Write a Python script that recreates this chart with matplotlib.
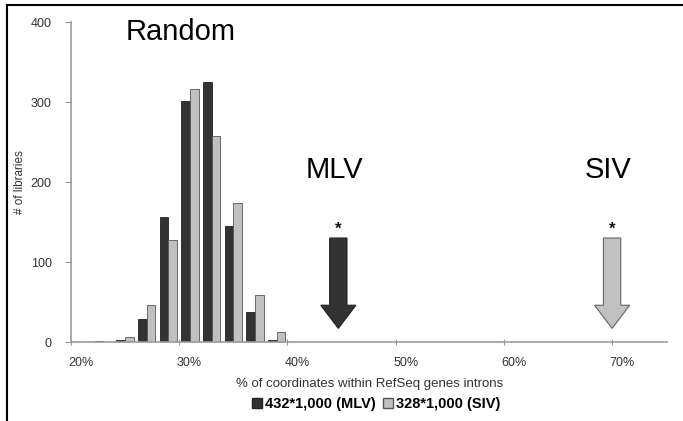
import numpy as np
import matplotlib as mpl
import matplotlib.pyplot as plt
from matplotlib.transforms import ScaledTranslation
from matplotlib.patches import Patch
from matplotlib.lines import Line2D

mpl.rcParams["font.family"] = ["Liberation Sans", "DejaVu Sans"]

# histogram of % of coordinates in introns (2% bins)
bin_centers = [23, 25, 27, 29, 31, 33, 35, 37, 39]
mlv_counts = [1, 2, 29, 156, 301, 325, 145, 38, 2]
siv_counts = [0, 6, 46, 128, 316, 258, 174, 59, 12]

# observed values for the real libraries
arrow_x = [44.7, 70.0]
arrow_top = 130
arrow_tip = 17
labels = ["MLV", "SIV"]
legend_labels = ["432*1,000 (MLV)", "328*1,000 (SIV)"]

dark = "#333333"
light = "#c0c0c0"

fig = plt.figure(figsize=(6.83, 4.21), dpi=100)
ax = fig.add_axes([0.104, 0.1876, 0.873, 0.7601])

x = np.array(bin_centers, dtype=float)
w = 0.8
ax.bar(x - w / 2, mlv_counts, width=w, color=dark, edgecolor="#222222", linewidth=0.6)
ax.bar(x + w / 2, siv_counts, width=w, color=light, edgecolor="#555555", linewidth=0.6)

# arrows
colors = [dark, light]
edges = ["#222222", "#666666"]
for xi, c, ec, lab in zip(arrow_x, colors, edges, labels):
    ax.arrow(xi, arrow_top, 0, -(arrow_top - arrow_tip), width=1.6, head_width=3.25,
             head_length=29, length_includes_head=True, facecolor=c, edgecolor=ec,
             linewidth=0.8)
    ax.text(xi, arrow_top + 1, "*", ha="center", va="bottom", fontsize=12,
            fontweight="bold", color="#111111")
    ax.text(xi - 0.4, 215, lab, ha="center", va="center", fontsize=21, color="black")

ax.text(30.1, 387, "Random", ha="center", va="center", fontsize=21, color="black")

ax.set_xlim(20, 75.1)
ax.set_ylim(0, 400)
ax.set_xticks([20, 30, 40, 50, 60, 70])
ax.set_xticklabels(["20%", "30%", "40%", "50%", "60%", "70%"])
ax.set_yticks([0, 100, 200, 300, 400])

for s in ["top", "right"]:
    ax.spines[s].set_visible(False)
for s in ["left", "bottom"]:
    ax.spines[s].set_color("#999999")
    ax.spines[s].set_linewidth(1.2)
ax.tick_params(axis="both", colors="#999999", labelcolor="#333333", labelsize=9, length=3)
ax.tick_params(axis="x", direction="inout", length=5, pad=8)
ax.tick_params(axis="y", length=4, pad=10)

offset = ScaledTranslation(10 / 100, 0, fig.dpi_scale_trans)
for lbl in ax.get_xticklabels():
    lbl.set_transform(lbl.get_transform() + offset)

ax.set_xlabel("% of coordinates within RefSeq genes introns", fontsize=9.5, color="#333333",
              labelpad=7)
ax.set_ylabel("# of libraries", fontsize=8.5, color="#333333", labelpad=3)

handles = [Patch(facecolor=dark, edgecolor="#222222"),
           Patch(facecolor=light, edgecolor="#555555")]
fig.legend(handles, legend_labels, loc="center", bbox_to_anchor=(376 / 683, 1 - 404 / 421),
           ncol=2, frameon=False, prop={"weight": "bold", "size": 10.5}, handlelength=0.7,
           handleheight=0.7, handletextpad=0.2, columnspacing=0.5)

# frame lines on top and left of the figure
fig.add_artist(Line2D([7 / 683, 1], [1 - 5 / 421, 1 - 5 / 421], color="black", lw=1.5))
fig.add_artist(Line2D([7 / 683, 7 / 683], [0, 1 - 5 / 421], color="black", lw=1.5))

fig.savefig("out.png", dpi=100)
plt.close(fig)
